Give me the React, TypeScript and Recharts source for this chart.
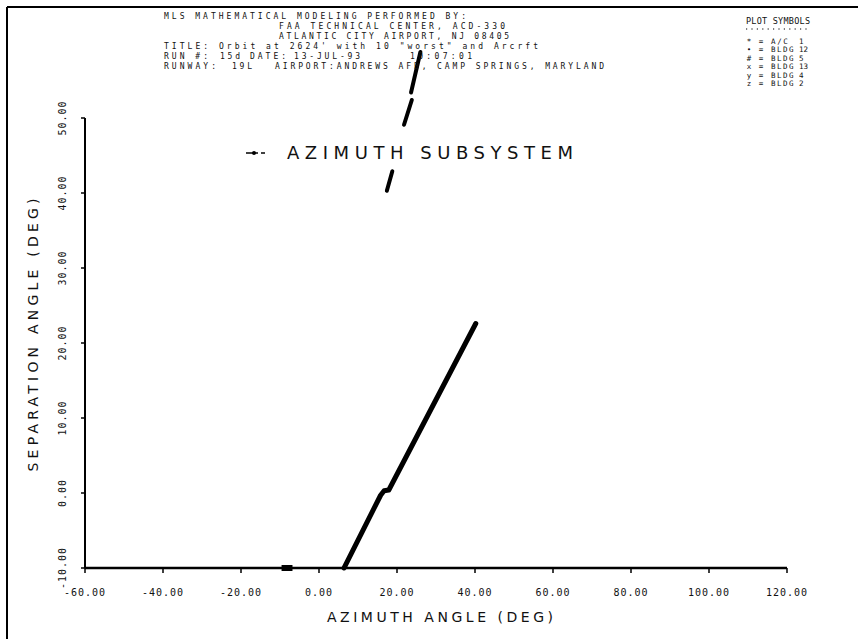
import React from 'react';
import { ComposedChart, Line, XAxis, YAxis, ReferenceLine } from 'recharts';

const W = 858;
const H = 639;

// axis ticks
const xTicks = [-60, -40, -20, 0, 20, 40, 60, 80, 100, 120];
const yTicks = [-10, 0, 10, 20, 30, 40, 50];

// series (azimuth deg, separation deg)
const mainTrack = [
  { az: 6.4, sep: -10 },
  { az: 15.8, sep: -0.3 },
  { az: 16.7, sep: 0.3 },
  { az: 17.9, sep: 0.4 },
  { az: 40.2, sep: 22.6 },
];
const streakLow = [
  { az: 17.4, sep: 40.3 },
  { az: 18.8, sep: 42.9 },
];
const streakMid = [
  { az: 21.8, sep: 49.1 },
  { az: 23.8, sep: 52.4 },
];
const streakHigh = [
  { az: 23.6, sep: 53.4 },
  { az: 26.0, sep: 58.8 },
];
const groundBlob = [
  { az: -9.6, sep: -10 },
  { az: -6.8, sep: -10 },
];

// texts
const headerTexts = [
  'MLS MATHEMATICAL MODELING PERFORMED BY:',
  'FAA TECHNICAL CENTER, ACD-330',
  'ATLANTIC CITY AIRPORT, NJ 08405',
  'TITLE: Orbit at 2624\' with 10 "worst" and Arcrft',
];
const runTexts = ['RUN #:', '15d', 'DATE:', '13-JUL-93', '10:07:01'];
const runwayTexts = ['RUNWAY:', '19L', 'AIRPORT:ANDREWS AFB, CAMP SPRINGS, MARYLAND'];
const symbolTitle = 'PLOT SYMBOLS';
const symbolRows = [
  ['*', 'A/C', '1'],
  ['\u2022', 'BLDG', '12'],
  ['#', 'BLDG', '5'],
  ['x', 'BLDG', '13'],
  ['y', 'BLDG', '4'],
  ['z', 'BLDG', '2'],
];
const legendName = 'AZIMUTH SUBSYSTEM';
const xLabel = 'AZIMUTH ANGLE (DEG)';
const yLabel = 'SEPARATION ANGLE (DEG)';

const MONO = '"DejaVu Sans Mono", monospace';
const SANS = '"DejaVu Sans", sans-serif';

function XTick(props: any) {
  const { x, y, payload } = props;
  return (
    <text x={x} y={y + 21} textAnchor="middle" fontFamily={MONO} fontSize={10} letterSpacing={1} fill="#111">
      {Number(payload.value).toFixed(2)}
    </text>
  );
}

function YTick(props: any) {
  const { x, y, payload } = props;
  const cx = x - 17;
  return (
    <text
      x={cx}
      y={y}
      textAnchor="middle"
      dominantBaseline="central"
      transform={`rotate(-90, ${cx}, ${y})`}
      fontFamily={MONO}
      fontSize={10}
      letterSpacing={1}
      fill="#111"
    >
      {Number(payload.value).toFixed(2)}
    </text>
  );
}

export default function App() {
  const t: any = { fontFamily: MONO, fontSize: 8, fill: '#111', style: { whiteSpace: 'pre' } };
  const s: any = { fontFamily: MONO, fontSize: 7.5, fill: '#111' };
  return (
    <div style={{ position: 'absolute', left: 0, top: 0, width: W, height: H, background: '#fff' }}>
      <ComposedChart width={W} height={H} margin={{ top: 43, right: 71, bottom: 41, left: 25 }}>
        <XAxis
          type="number"
          dataKey="az"
          domain={[-60, 120]}
          ticks={xTicks}
          interval={0}
          height={30}
          axisLine={{ stroke: '#000', strokeWidth: 2.5 }}
          tickLine={{ stroke: '#000', strokeWidth: 1.5 }}
          tickSize={5}
          tick={<XTick />}
        />
        <YAxis
          type="number"
          dataKey="sep"
          domain={[-10, 60]}
          ticks={yTicks}
          interval={0}
          width={60}
          axisLine={false}
          tickLine={{ stroke: '#000', strokeWidth: 1.5 }}
          tickSize={4}
          tickMargin={2}
          tick={<YTick />}
        />
        <ReferenceLine
          segment={[
            { x: -60, y: -10 },
            { x: -60, y: 50 },
          ]}
          stroke="#000"
          strokeWidth={2}
        />
        <Line data={groundBlob} dataKey="sep" stroke="#000" strokeWidth={6} dot={false} isAnimationActive={false} />
        <Line data={mainTrack} dataKey="sep" name={legendName} stroke="#000" strokeWidth={5} strokeLinecap="round" strokeLinejoin="round" dot={false} isAnimationActive={false} />
        <Line data={streakLow} dataKey="sep" stroke="#000" strokeWidth={4} strokeLinecap="round" dot={false} isAnimationActive={false} />
        <Line data={streakMid} dataKey="sep" stroke="#000" strokeWidth={4} strokeLinecap="round" dot={false} isAnimationActive={false} />
        <Line data={streakHigh} dataKey="sep" stroke="#000" strokeWidth={4} strokeLinecap="round" dot={false} isAnimationActive={false} />
      </ComposedChart>
      <svg
        width={W}
        height={H}
        style={{ position: 'absolute', left: 0, top: 0, pointerEvents: 'none' }}
      >
        {/* frame */}
        <line x1={7} y1={7} x2={W} y2={7} stroke="#000" strokeWidth={2} />
        <line x1={7} y1={7} x2={7} y2={H} stroke="#000" strokeWidth={2} />
        {/* header */}
        <text {...t} x={164} y={19} textLength={302} lengthAdjust="spacing">{headerTexts[0]}</text>
        <text {...t} x={279} y={29} textLength={226} lengthAdjust="spacing">{headerTexts[1]}</text>
        <text {...t} x={279} y={39} textLength={230} lengthAdjust="spacing">{headerTexts[2]}</text>
        <text {...t} x={164} y={49} textLength={374} lengthAdjust="spacing">{headerTexts[3]}</text>
        <text {...t} x={164} y={59} textLength={44} lengthAdjust="spacing">{runTexts[0]}</text>
        <text {...t} x={220} y={59} textLength={20} lengthAdjust="spacing">{runTexts[1]}</text>
        <text {...t} x={250} y={59} textLength={36} lengthAdjust="spacing">{runTexts[2]}</text>
        <text {...t} x={294} y={59} textLength={66} lengthAdjust="spacing">{runTexts[3]}</text>
        <text {...t} x={410} y={59} textLength={62} lengthAdjust="spacing">{runTexts[4]}</text>
        <text {...t} x={164} y={68.5} textLength={52} lengthAdjust="spacing">{runwayTexts[0]}</text>
        <text {...t} x={232} y={68.5} textLength={20} lengthAdjust="spacing">{runwayTexts[1]}</text>
        <text {...t} x={275} y={68.5} textLength={329} lengthAdjust="spacing">{runwayTexts[2]}</text>
        {/* plot symbols */}
        <text {...t} fontSize={8.5} x={746} y={24} textLength={64} lengthAdjust="spacing">{symbolTitle}</text>
        <line x1={746} y1={29} x2={810} y2={29} stroke="#000" strokeWidth={1} strokeDasharray="1.2 4.2" />
        {symbolRows.map((r, i) => (
          <g key={i}>
            <text {...s} x={749} y={44 + i * 8.4} textAnchor="middle">{r[0]}</text>
            <text {...s} x={761} y={44 + i * 8.4} textAnchor="middle">=</text>
            <text {...s} x={771} y={44 + i * 8.4} textLength={r[1].length * 5.6} lengthAdjust="spacing">{r[1]}</text>
            <text {...s} x={799} y={44 + i * 8.4}>{r[2]}</text>
          </g>
        ))}
        {/* series legend */}
        <line x1={246} y1={153} x2={258} y2={153} stroke="#000" strokeWidth={1.5} />
        <circle cx={254} cy={153} r={2} fill="#000" />
        <line x1={261} y1={153} x2={265} y2={153} stroke="#000" strokeWidth={1.5} />
        <text x={287} y={159} fontFamily={SANS} fontSize={18} textLength={286} lengthAdjust="spacing" fill="#111">
          {legendName}
        </text>
        {/* axis titles */}
        <text
          x={440}
          y={622}
          textAnchor="middle"
          fontFamily={SANS}
          fontSize={14}
          textLength={226}
          lengthAdjust="spacing"
          fill="#111"
        >
          {xLabel}
        </text>
        <text
          x={33}
          y={335}
          textAnchor="middle"
          dominantBaseline="central"
          transform="rotate(-90, 33, 335)"
          fontFamily={SANS}
          fontSize={14}
          textLength={273}
          lengthAdjust="spacing"
          fill="#111"
        >
          {yLabel}
        </text>
      </svg>
    </div>
  );
}
